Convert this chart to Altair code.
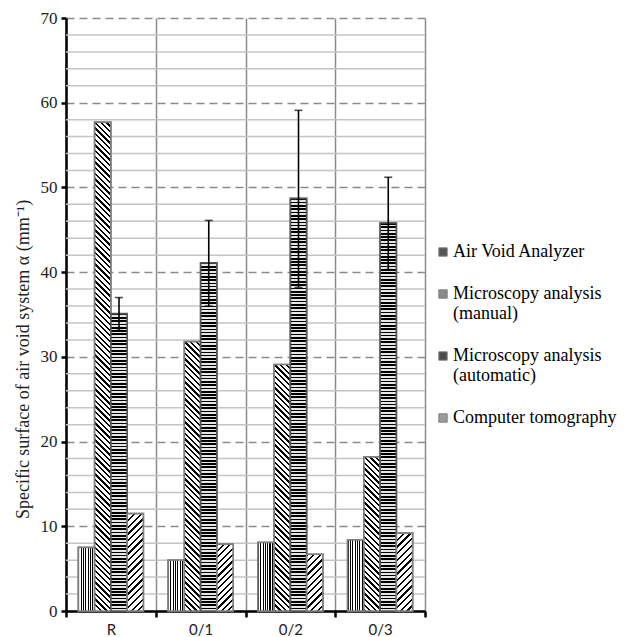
import math
import altair as alt
import pandas as pd

# ---- data ----
categories = ["R", "0/1", "0/2", "0/3"]
series_names = [
    "Air Void Analyzer",
    "Microscopy analysis (manual)",
    "Microscopy analysis (automatic)",
    "Computer tomography",
]
ava = [7.5, 6.0, 8.1, 8.4]
manual = [57.7, 31.8, 29.1, 18.2]
auto = [35.1, 41.1, 48.7, 45.8]
ct = [11.5, 7.9, 6.7, 9.2]
auto_lo = [33.1, 36.0, 38.2, 40.3]
auto_hi = [37.0, 46.1, 59.1, 51.2]
major_ticks = [0, 10, 20, 30, 40, 50, 60, 70]
minor_ticks = [v for v in range(0, 71, 2) if v % 10]

series_values = [ava, manual, auto, ct]
rows = []
for i, c in enumerate(categories):
    for s, vals in zip(series_names, series_values):
        rows.append({"category": c, "series": s, "value": vals[i]})
df = pd.DataFrame(rows)
err = pd.DataFrame({"category": categories, "series": series_names[2],
                    "lo": auto_lo, "hi": auto_hi})
minor_df = pd.DataFrame({"tick": minor_ticks})

# ---- layout constants ----
W, H = 359, 593
YMAX = 70
OUTER = 0.76
BAR_W = W / len(categories) / (len(series_names) + 2 * OUTER)


def stripe_stops(n, duty, dark, light):
    stops = []
    for i in range(n):
        t0 = i / n
        t1 = (i + duty) / n
        t2 = (i + 1) / n
        stops += [
            {"offset": round(t0, 5), "color": dark},
            {"offset": round(t1, 5), "color": dark},
            {"offset": round(t1, 5), "color": light},
            {"offset": round(t2, 5), "color": light},
        ]
    return stops


def vertical_stripes():
    return {"gradient": "linear", "x1": 0, "y1": 0, "x2": 1, "y2": 0,
            "stops": stripe_stops(7, 0.45, "#000000", "#ffffff")}


def horizontal_stripes(value):
    h = value / YMAX * H
    n = max(1, round(h / 3.3))
    return {"gradient": "linear", "x1": 0, "y1": 0, "x2": 0, "y2": 1,
            "stops": stripe_stops(n, 0.5, "#000000", "#e6e6e6")}


def diagonal_stripes(value, back, period, duty):
    h = value / YMAX * H
    r = BAR_W / h
    b = (r + 1) / (r * r + 1)
    a = r * b
    n = max(1, round((BAR_W + h) / (math.sqrt(2) * period)))
    if back:  # "\\" pattern
        x1, y1, x2, y2 = 0, 1, a, 1 - b
    else:     # "/" pattern
        x1, y1, x2, y2 = 0, 0, a, b
    return {"gradient": "linear", "x1": x1, "y1": y1, "x2": round(x2, 5), "y2": round(y2, 5),
            "stops": stripe_stops(n, duty, "#000000", "#ffffff")}


x_enc = alt.X(
    "category:N", sort=categories,
    scale=alt.Scale(domain=categories, paddingInner=0, paddingOuter=0),
    axis=alt.Axis(title=None, tickBand="extent", grid=True, gridColor="#8c8c8c",
                  gridWidth=1.5, domainColor="#000000", domainWidth=2.5,
                  tickColor="#000000", tickWidth=2.5, tickSize=6,
                  labelFont="Lato", labelFontSize=15, labelColor="#222222",
                  labelPadding=5, labelAngle=0),
)
xoff_enc = alt.XOffset(
    "series:N", sort=series_names,
    scale=alt.Scale(domain=series_names, paddingInner=0, paddingOuter=OUTER),
)
y_scale = alt.Scale(domain=[0, YMAX], nice=False, zero=True)
y_axis = alt.Axis(
    title="Specific surface of air void system α (mm⁻¹)",
    values=major_ticks, grid=True, gridColor="#8a8a8a", gridWidth=1.5,
    gridDash=[8, 5], domainColor="#000000", domainWidth=2.5,
    tickColor="#000000", tickWidth=2.5, tickSize=5,
    labelFont="Liberation Serif", labelFontSize=17, labelColor="#222222",
    labelPadding=4, titleFont="Liberation Serif", titleFontSize=18,
    titleFontWeight="normal", titleColor="#222222",
    titleX=-43, titleY=341, titleAngle=270, titleBaseline="middle",
    titleAlign="center",
)
y_enc = alt.Y("value:Q", scale=y_scale, axis=y_axis)

minor = alt.Chart(minor_df).mark_rule(color="#c4c4c4", strokeWidth=1.5).encode(
    y=alt.Y("tick:Q", scale=y_scale, axis=y_axis)
)

grays = ["#555555", "#8a8a8a", "#4a4a4a", "#9a9a9a"]
base = alt.Chart(df).mark_bar(stroke="#7f7f7f", strokeWidth=1.5).encode(
    x=x_enc, xOffset=xoff_enc, y=y_enc,
    color=alt.Color(
        "series:N", sort=series_names,
        scale=alt.Scale(domain=series_names, range=grays),
        legend=alt.Legend(
            title=None, orient="none", legendX=368, legendY=225,
            symbolType="square", symbolSize=70, symbolStrokeColor="#7f7f7f",
            symbolStrokeWidth=1, labelFont="Liberation Serif", labelFontSize=18,
            labelColor="#000000", labelLimit=400, rowPadding=24, labelOffset=1,
            labelExpr="indexof(datum.label, ' (') > 0 ? [substring(datum.label, 0, indexof(datum.label, ' (')), substring(datum.label, indexof(datum.label, ' (') + 1)] : datum.label",
        ),
    ),
)

layers = [minor, base]
for si, (s, vals) in enumerate(zip(series_names, series_values)):
    for ci, c in enumerate(categories):
        v = vals[ci]
        if si == 0:
            fill = vertical_stripes()
        elif si == 1:
            fill = diagonal_stripes(v, True, 4.0, 0.4)
        elif si == 2:
            fill = horizontal_stripes(v)
        else:
            fill = diagonal_stripes(v, False, 4.6, 0.34)
        stroke = "#555555" if si == 2 else "#7f7f7f"
        layers.append(
            alt.Chart(df)
            .transform_filter((alt.datum.category == c) & (alt.datum.series == s))
            .mark_bar(fill=fill, stroke=stroke, strokeWidth=1.7)
            .encode(x=x_enc, xOffset=xoff_enc, y=y_enc)
        )

err_rule = alt.Chart(err).mark_rule(color="#000000", strokeWidth=1.6).encode(
    x=x_enc, xOffset=xoff_enc,
    y=alt.Y("lo:Q", scale=y_scale, axis=y_axis), y2="hi:Q",
)
cap_lo = alt.Chart(err).mark_tick(color="#000000", thickness=1.6, size=8, orient="horizontal").encode(
    x=x_enc, xOffset=xoff_enc, y=alt.Y("lo:Q", scale=y_scale, axis=y_axis),
)
cap_hi = alt.Chart(err).mark_tick(color="#000000", thickness=1.6, size=8, orient="horizontal").encode(
    x=x_enc, xOffset=xoff_enc, y=alt.Y("hi:Q", scale=y_scale, axis=y_axis),
)
layers += [err_rule, cap_lo, cap_hi]

chart = alt.layer(*layers).properties(
    width=W, height=H,
    autosize=alt.AutoSizeParams(type="none"),
    padding={"left": 58, "top": 10, "right": 194, "bottom": 26},
    background="#ffffff",
).configure_view(stroke=None)

chart.save("out.html", embed_options={"renderer": "svg", "actions": False})
